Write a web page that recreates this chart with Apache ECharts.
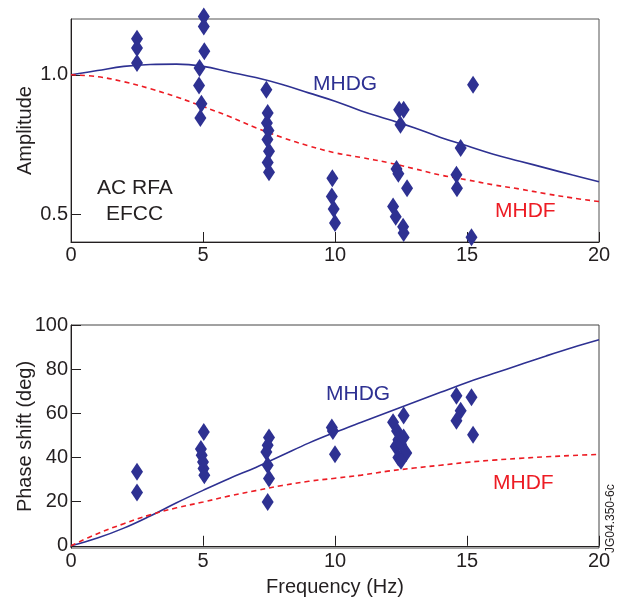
<!DOCTYPE html>
<html>
<head>
<meta charset="utf-8">
<script src="https://cdn.jsdelivr.net/npm/echarts@6/dist/echarts.min.js"></script>
<style>
html,body{margin:0;padding:0;background:#fff;}
#chart{width:622px;height:603px;}
</style>
</head>
<body>
<div id="chart"></div>
<script>
// ---- Data ----
const freqTicks = [0, 5, 10, 15, 20];
const ampTicks = [0.5, 1.0];
const phaseTicks = [0, 20, 40, 60, 80, 100];

const curveFreq = [0,1,2,3,4,5,6,7,8,9,10,11,12,13,14,15,16,17,18,19,20];
const ampMHDG   = [1.0,1.015,1.03,1.037,1.038,1.03,1.01,0.99,0.965,0.935,0.905,0.87,0.84,0.81,0.775,0.745,0.715,0.69,0.665,0.64,0.616];
const ampMHDF   = [1.0,0.993,0.975,0.95,0.92,0.886,0.85,0.81,0.775,0.745,0.72,0.703,0.685,0.663,0.64,0.623,0.605,0.59,0.573,0.558,0.545];
const phaseMHDG = [0,3.5,8,13.5,19.5,25.1,30.5,35.5,41,46.5,51.4,56,60.5,65,69.5,74,78,82,86,89.8,93.3];
const phaseMHDF = [0,5.5,10,14,17.2,19.8,22.6,25,27.3,29.2,30.6,32,33.8,35.2,36.5,37.8,38.8,39.6,40.3,40.9,41.4];

const ampMeasFreq = [2.5,2.5,2.5, 5.03,5.03,5.05,4.87,4.85,4.94,4.9,
  7.4,7.45,7.42,7.48,7.44,7.5,7.45,7.5,
  9.9,9.88,9.95,10.0,
  12.43,12.6,12.48,12.33,12.4,12.73,12.2,12.3,12.58,12.6,
  15.23,14.76,14.6,14.62,15.17];
const ampMeasVal = [1.129,1.096,1.042, 1.209,1.173,1.084,1.024,0.961,0.896,0.845,
  0.946,0.863,0.827,0.80,0.768,0.726,0.685,0.65,
  0.629,0.563,0.518,0.468,
  0.874,0.874,0.821,0.662,0.645,0.593,0.527,0.491,0.455,0.432,
  0.964,0.737,0.641,0.593,0.417];

const phaseMeasFreq = [2.5,2.5, 5.03,4.92,4.95,5.0,5.02,5.05,
  7.5,7.45,7.4,7.45,7.5,7.45,
  9.88,9.92,10.0,
  12.2,12.6,12.35,12.4,12.3,12.5,12.7,12.4,12.5,12.6,
  14.6,15.17,14.76,14.6,15.23];
const phaseMeasVal = [33.5,24.1, 51.5,43.8,41,38,35,32,
  49,45.5,42.5,36.5,30.5,19.8,
  53.6,52,41.5,
  56,59,52,48,45,46,42,40,38.5,49,
  68,67.3,61.2,56.6,50.3];

// ---- Chart ----
const BLUE = '#2E3192', RED = '#ED1C24', INK = '#231F20';
const FONT = "'Liberation Sans', Arial, sans-serif";
const zip = (a, b) => a.map((v, i) => [v, b[i]]);

const chart = echarts.init(document.getElementById('chart'), null, {renderer: 'canvas'});

function xAxisCfg(gridIndex, name) {
  return {
    type: 'value', gridIndex, min: 0, max: 20, interval: 5,
    name: name || '', nameLocation: 'middle', nameGap: 29,
    nameTextStyle: {fontFamily: FONT, fontSize: 20, color: INK},
    axisLine: {show: true, lineStyle: {color: INK, width: 1}},
    axisTick: {show: true, inside: true, length: 10, customValues: freqTicks, lineStyle: {color: INK}},
    axisLabel: {fontFamily: FONT, fontSize: 20, color: INK, margin: 3, customValues: freqTicks},
    splitLine: {show: false}
  };
}

function txt(text, x, y, color, size) {
  return {type: 'text', x, y, style: {text, fill: color, textVerticalAlign: 'middle',
    font: size + "px 'Liberation Sans', Arial, sans-serif"}};
}

const option = {
  animation: false,
  backgroundColor: '#fff',
  grid: [
    {left: 71, top: 19, width: 528, height: 223, show: true, borderColor: '#555', borderWidth: 1,
      containLabel: false, outerBoundsMode: 'none'},
    {left: 71, top: 325, width: 528, height: 223, show: true, borderColor: '#444', borderWidth: 1,
      containLabel: false, outerBoundsMode: 'none'}
  ],
  xAxis: [xAxisCfg(0), xAxisCfg(1, 'Frequency (Hz)')],
  yAxis: [
    {
      type: 'value', gridIndex: 0, min: 0.4, max: 1.2,
      name: 'Amplitude', nameLocation: 'middle', nameGap: 36, nameMoveOverlap: false,
      nameTextStyle: {fontFamily: FONT, fontSize: 20, color: INK},
      axisLine: {show: true, lineStyle: {color: INK}},
      axisTick: {show: true, inside: true, length: 10, customValues: ampTicks, lineStyle: {color: INK}},
      axisLabel: {fontFamily: FONT, fontSize: 20, color: INK, margin: 3, customValues: ampTicks,
        formatter: v => v.toFixed(1)},
      splitLine: {show: false}
    },
    {
      type: 'value', gridIndex: 1, min: -1, max: 100,
      name: 'Phase shift (deg)', nameLocation: 'middle', nameGap: 36, nameMoveOverlap: false,
      nameTextStyle: {fontFamily: FONT, fontSize: 20, color: INK},
      axisLine: {show: true, lineStyle: {color: INK}},
      axisTick: {show: true, inside: true, length: 10, customValues: phaseTicks, lineStyle: {color: INK}},
      axisLabel: {fontFamily: FONT, fontSize: 20, color: INK, margin: 3, customValues: phaseTicks},
      splitLine: {show: false}
    }
  ],
  series: [
    {type: 'line', name: 'MHDG', xAxisIndex: 0, yAxisIndex: 0, data: zip(curveFreq, ampMHDG),
      smooth: 0.4, showSymbol: false, symbol: 'none', lineStyle: {color: BLUE, width: 1.6}, z: 2},
    {type: 'line', name: 'MHDF', xAxisIndex: 0, yAxisIndex: 0, data: zip(curveFreq, ampMHDF),
      smooth: 0.4, showSymbol: false, symbol: 'none', lineStyle: {color: RED, width: 1.6, type: [5, 4]}, z: 2},
    {type: 'scatter', xAxisIndex: 0, yAxisIndex: 0, data: zip(ampMeasFreq, ampMeasVal), clip: false,
      symbol: 'diamond', symbolSize: [12, 18], itemStyle: {color: BLUE, opacity: 1}, z: 3},
    {type: 'line', name: 'MHDG', xAxisIndex: 1, yAxisIndex: 1, data: zip(curveFreq, phaseMHDG),
      smooth: 0.4, showSymbol: false, symbol: 'none', lineStyle: {color: BLUE, width: 1.6}, z: 2},
    {type: 'line', name: 'MHDF', xAxisIndex: 1, yAxisIndex: 1, data: zip(curveFreq, phaseMHDF),
      smooth: 0.4, showSymbol: false, symbol: 'none', lineStyle: {color: RED, width: 1.6, type: [5, 4]}, z: 2},
    {type: 'scatter', xAxisIndex: 1, yAxisIndex: 1, data: zip(phaseMeasFreq, phaseMeasVal), clip: false,
      symbol: 'diamond', symbolSize: [12, 18], itemStyle: {color: BLUE, opacity: 1}, z: 3}
  ],
  graphic: [
    txt('MHDG', 313, 84, BLUE, 21),
    txt('MHDF', 495, 211, RED, 21),
    txt('AC RFA', 97, 188, INK, 21),
    txt('EFCC', 106, 214, INK, 21),
    txt('MHDG', 326, 394, BLUE, 21),
    txt('MHDF', 493, 483, RED, 21),
    {type: 'text', x: 611, y: 553, rotation: Math.PI / 2,
      style: {text: 'JG04.350-6c', fill: INK, textVerticalAlign: 'middle', font: "12px 'Liberation Sans', Arial, sans-serif"}}
  ]
};
chart.setOption(option);
</script>
</body>
</html>
